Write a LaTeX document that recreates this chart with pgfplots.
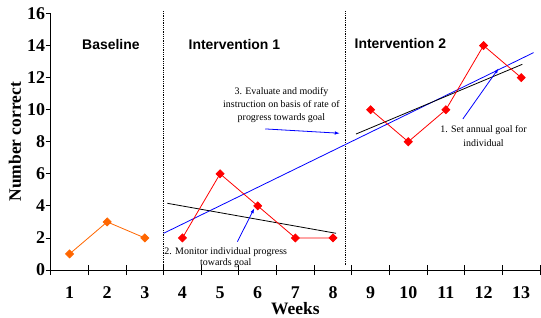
\documentclass[border=0pt]{standalone}
\usepackage{pgfplots}
\pgfplotsset{compat=1.18}
\usetikzlibrary{arrows.meta}
\usepackage{fontspec}
\setmainfont{Liberation Serif}
\newfontfamily\arial{Liberation Sans}
\definecolor{orng}{RGB}{255,102,0}
\begin{document}
\begin{tikzpicture}
\pgfplotsset{
  common/.style={width=489.3bp, height=256.5bp, scale only axis,
    xmin=0.5, xmax=13.5, ymin=0, ymax=16, clip=false},
}
\begin{axis}[common, name=ax,
  axis x line=bottom, axis y line=none,
  axis line style={-, black, line width=0.8bp},
  xtick={0.5,1.5,...,13.5}, xticklabels={},
  tick align=center, major tick length=10bp,
  tick style={black, line width=0.8bp},
  ytick=\empty,
]
% phase lines
\addplot[black, densely dotted, line width=0.8bp] coordinates {(3.5,0.2) (3.5,16.2)};
\addplot[black, densely dotted, line width=0.8bp] coordinates {(8.33,0.3) (8.33,16.2)};
% trend / goal lines
\addplot[blue, line width=0.8bp] coordinates {(3.5,2.29) (13.33,13.56)};
\addplot[black, line width=0.8bp] coordinates {(3.6,4.16) (8.08,2.29)};
\addplot[black, line width=0.8bp] coordinates {(8.61,8.48) (13.03,12.83)};
% data
\addplot[orng, line width=0.8bp, mark=square*, mark size=2.8bp, mark options={rotate=45, fill=orng, draw=orng}] coordinates {(1,1) (2,3) (3,2)};
\addplot[red, line width=0.8bp, mark=square*, mark size=2.8bp, mark options={rotate=45, fill=red, draw=red}] coordinates {(4,2) (5,6) (6,4) (7,2) (8,2)};
\addplot[red, line width=0.8bp, mark=square*, mark size=2.8bp, mark options={rotate=45, fill=red, draw=red}] coordinates {(9,10) (10,8) (11,10) (12,14) (13,12)};
% arrows
\addplot[blue, line width=0.8bp, -{Latex[length=5bp,width=3.5bp]}] coordinates {(5.46,1.77) (5.91,3.85)};
\addplot[blue, line width=0.8bp, -{Latex[length=5bp,width=3.5bp]}] coordinates {(6.20,8.80) (8.18,8.53)};
\addplot[blue, line width=0.8bp, -{Latex[length=5bp,width=3.5bp]}] coordinates {(11.45,9.42) (12.40,12.58)};
% phase titles
\node[font=\arial\bfseries\fontsize{14}{14}\selectfont] at (axis cs:2.10,14.04) {Baseline};
\node[font=\arial\bfseries\fontsize{14}{14}\selectfont] at (axis cs:5.38,14.04) {Intervention 1};
\node[font=\arial\bfseries\fontsize{14}{14}\selectfont] at (axis cs:9.79,14.1) {Intervention 2};
% annotations
\node[align=center, font=\fontsize{10}{13.3}\selectfont, inner sep=0pt] at (axis cs:6.63,10.29) {3. Evaluate and modify\\instruction on basis of rate of\\progress towards goal};
\node[align=center, font=\fontsize{10}{11.7}\selectfont, inner sep=0pt] at (axis cs:5.15,0.78) {2. Monitor individual progress\\towards goal};
\node[align=center, font=\fontsize{10}{13.3}\selectfont, inner sep=0pt] at (axis cs:12.0,8.36) {1. Set annual goal for\\individual};
\end{axis}
\begin{axis}[common,
  axis x line=bottom, axis y line=left,
  x axis line style={draw=none},
  y axis line style={-, black, line width=0.8bp},
  xtick={1,...,13}, x tick style={draw=none},
  ytick={0,2,...,16},
  tick align=outside, major tick length=5bp,
  y tick style={black, line width=0.8bp},
  /pgf/number format/assume math mode=true,
  ticklabel style={font=\fontsize{18}{18}\selectfont\bfseries},
  xticklabel style={yshift=-8bp},
  yticklabel style={inner xsep=0.5bp},
  xlabel={Weeks}, ylabel={Number correct},
  label style={font=\fontsize{17.5}{17.5}\selectfont\bfseries},
  xlabel style={at={(axis description cs:0.5,0)}, anchor=base, inner sep=0pt, text depth=0pt, yshift=-44.5bp},
  ylabel style={at={(axis description cs:0,0.5)}, anchor=center, rotate=0, xshift=0bp, yshift=35.7bp},
]
\end{axis}
\pgfresetboundingbox
\path ([xshift=-50.7bp,yshift=-48bp]ax.south west) rectangle ([xshift=1bp,yshift=13.5bp]ax.north east);
\end{tikzpicture}
\end{document}
